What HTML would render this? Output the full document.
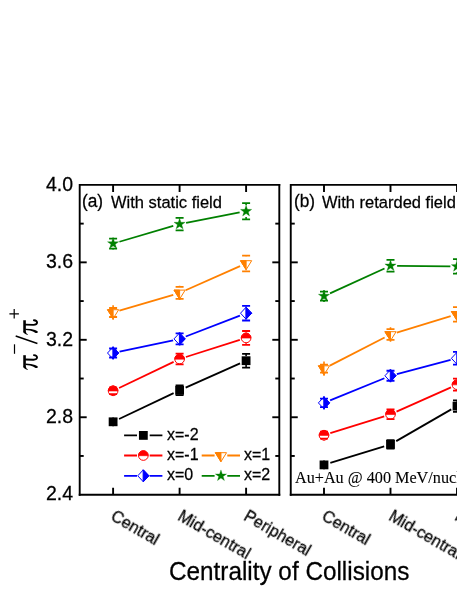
<!DOCTYPE html>
<html><head><meta charset="utf-8"><style>
html,body{margin:0;padding:0;background:#fff;}
body{width:457px;height:591px;position:relative;overflow:hidden;font-family:"Liberation Sans",sans-serif;color:#000;}
.t{position:absolute;white-space:nowrap;line-height:1;transform-origin:0 84.65%;will-change:transform;-webkit-text-stroke:0.25px #000;}
</style></head><body>
<svg width="457" height="591" viewBox="0 0 457 591" style="position:absolute;left:0;top:0"><defs><clipPath id="ca"><rect x="0" y="0" width="457" height="591"/></clipPath></defs><path d="M79.7,494.7 V184.9 H279.3 " stroke="#000" stroke-width="1.9" fill="none" stroke-linecap="square"/><path d="M79.7,494.7 H279.3" stroke="#000" stroke-width="1.9" fill="none" stroke-linecap="square"/><path d="M279.3,184.9 V494.7" stroke="#000" stroke-width="1.9" fill="none" stroke-linecap="square"/><path d="M79.7,455.97 h4" stroke="#000" stroke-width="1.9"/><path d="M279.3,455.97 h-4" stroke="#000" stroke-width="1.9"/><path d="M79.7,417.25 h7" stroke="#000" stroke-width="1.9"/><path d="M279.3,417.25 h-7" stroke="#000" stroke-width="1.9"/><path d="M79.7,378.52 h4" stroke="#000" stroke-width="1.9"/><path d="M279.3,378.52 h-4" stroke="#000" stroke-width="1.9"/><path d="M79.7,339.80 h7" stroke="#000" stroke-width="1.9"/><path d="M279.3,339.80 h-7" stroke="#000" stroke-width="1.9"/><path d="M79.7,301.08 h4" stroke="#000" stroke-width="1.9"/><path d="M279.3,301.08 h-4" stroke="#000" stroke-width="1.9"/><path d="M79.7,262.35 h7" stroke="#000" stroke-width="1.9"/><path d="M279.3,262.35 h-7" stroke="#000" stroke-width="1.9"/><path d="M79.7,223.63 h4" stroke="#000" stroke-width="1.9"/><path d="M279.3,223.63 h-4" stroke="#000" stroke-width="1.9"/><path d="M113.1,184.9 v7 M113.1,494.7 v-7" stroke="#000" stroke-width="1.9"/><path d="M179.6,184.9 v7 M179.6,494.7 v-7" stroke="#000" stroke-width="1.9"/><path d="M246.1,184.9 v7 M246.1,494.7 v-7" stroke="#000" stroke-width="1.9"/><path d="M290.75,494.7 V184.9 H477 " stroke="#000" stroke-width="1.9" fill="none" stroke-linecap="square"/><path d="M290.75,494.7 H477" stroke="#000" stroke-width="1.9" fill="none" stroke-linecap="square"/><path d="M290.75,455.97 h4" stroke="#000" stroke-width="1.9"/><path d="M290.75,417.25 h7" stroke="#000" stroke-width="1.9"/><path d="M290.75,378.52 h4" stroke="#000" stroke-width="1.9"/><path d="M290.75,339.80 h7" stroke="#000" stroke-width="1.9"/><path d="M290.75,301.08 h4" stroke="#000" stroke-width="1.9"/><path d="M290.75,262.35 h7" stroke="#000" stroke-width="1.9"/><path d="M290.75,223.63 h4" stroke="#000" stroke-width="1.9"/><path d="M324.0,184.9 v7 M324.0,494.7 v-7" stroke="#000" stroke-width="1.9"/><path d="M390.5,184.9 v7 M390.5,494.7 v-7" stroke="#000" stroke-width="1.9"/><path d="M457.0,184.9 v7 M457.0,494.7 v-7" stroke="#000" stroke-width="1.9"/><g><line x1="119.06" y1="418.97" x2="173.64" y2="393.13" stroke="#000000" stroke-width="1.8"/><line x1="185.63" y1="387.62" x2="240.07" y2="363.38" stroke="#000000" stroke-width="1.8"/><path d="M113.10,417.40 V418.80 M113.10,424.80 V426.20" stroke="#000000" stroke-width="1.6" fill="none"/><rect x="108.70" y="417.40" width="8.8" height="8.8" fill="#000000"/><path d="M109.10,418.80 h8 M109.10,424.80 h8" stroke="#000000" stroke-width="1.8" fill="none"/><path d="M179.60,385.40 V385.90 M179.60,394.70 V395.20" stroke="#000000" stroke-width="1.6" fill="none"/><rect x="175.20" y="385.90" width="8.8" height="8.8" fill="#000000"/><path d="M175.60,385.40 h8 M175.60,395.20 h8" stroke="#000000" stroke-width="1.8" fill="none"/><path d="M246.10,353.85 V356.30 M246.10,365.10 V367.55" stroke="#000000" stroke-width="1.6" fill="none"/><rect x="241.70" y="356.30" width="8.8" height="8.8" fill="#000000"/><path d="M242.10,353.85 h8 M242.10,367.55 h8" stroke="#000000" stroke-width="1.8" fill="none"/></g>
<g><line x1="119.05" y1="387.95" x2="173.65" y2="361.85" stroke="#ff0000" stroke-width="1.8"/><line x1="185.89" y1="357.00" x2="239.81" y2="339.90" stroke="#ff0000" stroke-width="1.8"/><path d="M113.10,385.50 V387.50 M113.10,394.10 V396.10" stroke="#ff0000" stroke-width="1.6" fill="none"/><circle cx="113.10" cy="390.80" r="4.85" fill="#fff" stroke="#ff0000" stroke-width="1.0"/><path d="M108.25,391.00 A4.85,4.85 0 0 1 117.95,391.00 Z" fill="#ff0000" stroke="#ff0000" stroke-width="0.6"/><path d="M109.10,387.50 h8 M109.10,394.10 h8" stroke="#ff0000" stroke-width="1.8" fill="none"/><path d="M179.60,353.60 V353.70 M179.60,364.30 V364.40" stroke="#ff0000" stroke-width="1.6" fill="none"/><circle cx="179.60" cy="359.00" r="4.85" fill="#fff" stroke="#ff0000" stroke-width="1.0"/><path d="M174.75,359.20 A4.85,4.85 0 0 1 184.45,359.20 Z" fill="#ff0000" stroke="#ff0000" stroke-width="0.6"/><path d="M175.60,353.60 h8 M175.60,364.40 h8" stroke="#ff0000" stroke-width="1.8" fill="none"/><path d="M246.10,331.00 V332.60 M246.10,343.20 V344.80" stroke="#ff0000" stroke-width="1.6" fill="none"/><circle cx="246.10" cy="337.90" r="4.85" fill="#fff" stroke="#ff0000" stroke-width="1.0"/><path d="M241.25,338.10 A4.85,4.85 0 0 1 250.95,338.10 Z" fill="#ff0000" stroke="#ff0000" stroke-width="0.6"/><path d="M242.10,331.00 h8 M242.10,344.80 h8" stroke="#ff0000" stroke-width="1.8" fill="none"/></g>
<g><line x1="119.56" y1="351.63" x2="173.14" y2="340.27" stroke="#0000ff" stroke-width="1.8"/><line x1="185.76" y1="336.52" x2="239.94" y2="315.58" stroke="#0000ff" stroke-width="1.8"/><path d="M113.10,346.40 V348.50 M113.10,357.50 V359.60" stroke="#0000ff" stroke-width="1.6" fill="none"/><path d="M113.10,347.00 L118.70,353.00 L113.10,359.00 L107.50,353.00 Z" fill="#fff" stroke="#0000ff" stroke-width="1.0" stroke-linejoin="miter"/><path d="M112.90,347.00 L118.70,353.00 L112.90,359.00 Z" fill="#0000ff" stroke="#0000ff" stroke-width="1.0"/><path d="M109.10,348.50 h8 M109.10,357.50 h8" stroke="#0000ff" stroke-width="1.8" fill="none"/><path d="M179.60,332.30 V333.40 M179.60,344.40 V345.50" stroke="#0000ff" stroke-width="1.6" fill="none"/><path d="M179.60,332.90 L185.20,338.90 L179.60,344.90 L174.00,338.90 Z" fill="#fff" stroke="#0000ff" stroke-width="1.0" stroke-linejoin="miter"/><path d="M179.40,332.90 L185.20,338.90 L179.40,344.90 Z" fill="#0000ff" stroke="#0000ff" stroke-width="1.0"/><path d="M175.60,333.40 h8 M175.60,344.40 h8" stroke="#0000ff" stroke-width="1.8" fill="none"/><path d="M246.10,305.90 V306.60 M246.10,319.80 V320.50" stroke="#0000ff" stroke-width="1.6" fill="none"/><path d="M246.10,307.20 L251.70,313.20 L246.10,319.20 L240.50,313.20 Z" fill="#fff" stroke="#0000ff" stroke-width="1.0" stroke-linejoin="miter"/><path d="M245.90,307.20 L251.70,313.20 L245.90,319.20 Z" fill="#0000ff" stroke="#0000ff" stroke-width="1.0"/><path d="M242.10,305.90 h8 M242.10,320.50 h8" stroke="#0000ff" stroke-width="1.8" fill="none"/></g>
<g><line x1="119.43" y1="310.63" x2="173.27" y2="294.77" stroke="#ff8000" stroke-width="1.8"/><line x1="185.64" y1="290.23" x2="240.06" y2="266.17" stroke="#ff8000" stroke-width="1.8"/><path d="M113.10,305.30 V308.00 M113.10,317.00 V319.70" stroke="#ff8000" stroke-width="1.6" fill="none"/><path d="M107.50,309.70 L118.70,309.70 L113.10,318.70 Z" fill="#fff" stroke="#ff8000" stroke-width="1.0"/><path d="M107.50,309.70 L113.10,309.70 L113.10,318.70 Z" fill="#ff8000" stroke="#ff8000" stroke-width="1.0"/><path d="M109.10,308.00 h8 M109.10,317.00 h8" stroke="#ff8000" stroke-width="1.8" fill="none"/><path d="M179.60,285.70 V286.90 M179.60,298.90 V300.10" stroke="#ff8000" stroke-width="1.6" fill="none"/><path d="M174.00,290.10 L185.20,290.10 L179.60,299.10 Z" fill="#fff" stroke="#ff8000" stroke-width="1.0"/><path d="M174.00,290.10 L179.60,290.10 L179.60,299.10 Z" fill="#ff8000" stroke="#ff8000" stroke-width="1.0"/><path d="M175.60,286.90 h8 M175.60,298.90 h8" stroke="#ff8000" stroke-width="1.8" fill="none"/><path d="M246.10,255.65 V256.30 M246.10,270.70 V271.35" stroke="#ff8000" stroke-width="1.6" fill="none"/><path d="M240.50,260.70 L251.70,260.70 L246.10,269.70 Z" fill="#fff" stroke="#ff8000" stroke-width="1.0"/><path d="M240.50,260.70 L246.10,260.70 L246.10,269.70 Z" fill="#ff8000" stroke="#ff8000" stroke-width="1.0"/><path d="M242.10,255.65 h8 M242.10,271.35 h8" stroke="#ff8000" stroke-width="1.8" fill="none"/></g>
<g><line x1="119.43" y1="241.74" x2="173.27" y2="225.96" stroke="#008000" stroke-width="1.8"/><line x1="186.08" y1="222.84" x2="239.62" y2="212.46" stroke="#008000" stroke-width="1.8"/><path d="M113.10,237.70 V238.60 M113.10,248.60 V249.50" stroke="#008000" stroke-width="1.6" fill="none"/><path d="M113.10,237.70 L114.45,241.74 L118.71,241.78 L115.29,244.31 L116.57,248.37 L113.10,245.90 L109.63,248.37 L110.91,244.31 L107.49,241.78 L111.75,241.74 Z" fill="#008000" stroke="#008000" stroke-width="0.3"/><path d="M109.10,238.60 h8 M109.10,248.60 h8" stroke="#008000" stroke-width="1.8" fill="none"/><path d="M179.60,217.85 V218.20 M179.60,230.00 V230.35" stroke="#008000" stroke-width="1.6" fill="none"/><path d="M179.60,218.20 L180.95,222.24 L185.21,222.28 L181.79,224.81 L183.07,228.87 L179.60,226.40 L176.13,228.87 L177.41,224.81 L173.99,222.28 L178.25,222.24 Z" fill="#008000" stroke="#008000" stroke-width="0.3"/><path d="M175.60,217.85 h8 M175.60,230.35 h8" stroke="#008000" stroke-width="1.8" fill="none"/><path d="M246.10,203.10 V205.30 M246.10,217.10 V219.30" stroke="#008000" stroke-width="1.6" fill="none"/><path d="M246.10,205.30 L247.45,209.34 L251.71,209.38 L248.29,211.91 L249.57,215.97 L246.10,213.50 L242.63,215.97 L243.91,211.91 L240.49,209.38 L244.75,209.34 Z" fill="#008000" stroke="#008000" stroke-width="0.3"/><path d="M242.10,203.10 h8 M242.10,219.30 h8" stroke="#008000" stroke-width="1.8" fill="none"/></g><g><line x1="330.31" y1="462.96" x2="384.19" y2="446.34" stroke="#000000" stroke-width="1.8"/><line x1="396.22" y1="441.11" x2="451.28" y2="409.39" stroke="#000000" stroke-width="1.8"/><path d="M324.00,460.50 V461.90 M324.00,467.90 V469.30" stroke="#000000" stroke-width="1.6" fill="none"/><rect x="319.60" y="460.50" width="8.8" height="8.8" fill="#000000"/><path d="M320.00,461.90 h8 M320.00,467.90 h8" stroke="#000000" stroke-width="1.8" fill="none"/><path d="M390.50,440.00 V440.10 M390.50,448.70 V448.80" stroke="#000000" stroke-width="1.6" fill="none"/><rect x="386.10" y="440.00" width="8.8" height="8.8" fill="#000000"/><path d="M386.50,440.10 h8 M386.50,448.70 h8" stroke="#000000" stroke-width="1.8" fill="none"/><path d="M457.00,400.30 V401.70 M457.00,410.50 V411.90" stroke="#000000" stroke-width="1.6" fill="none"/><rect x="452.60" y="401.70" width="8.8" height="8.8" fill="#000000"/><path d="M453.00,400.30 h8 M453.00,411.90 h8" stroke="#000000" stroke-width="1.8" fill="none"/></g>
<g><line x1="330.30" y1="433.22" x2="384.20" y2="416.28" stroke="#ff0000" stroke-width="1.8"/><line x1="396.53" y1="411.61" x2="450.97" y2="387.34" stroke="#ff0000" stroke-width="1.8"/><path d="M324.00,429.90 V431.70 M324.00,438.70 V440.50" stroke="#ff0000" stroke-width="1.6" fill="none"/><circle cx="324.00" cy="435.20" r="4.85" fill="#fff" stroke="#ff0000" stroke-width="1.0"/><path d="M319.15,435.40 A4.85,4.85 0 0 1 328.85,435.40 Z" fill="#ff0000" stroke="#ff0000" stroke-width="0.6"/><path d="M320.00,431.70 h8 M320.00,438.70 h8" stroke="#ff0000" stroke-width="1.8" fill="none"/><path d="M390.50,409.00 V409.50 M390.50,419.10 V419.60" stroke="#ff0000" stroke-width="1.6" fill="none"/><circle cx="390.50" cy="414.30" r="4.85" fill="#fff" stroke="#ff0000" stroke-width="1.0"/><path d="M385.65,414.50 A4.85,4.85 0 0 1 395.35,414.50 Z" fill="#ff0000" stroke="#ff0000" stroke-width="0.6"/><path d="M386.50,409.50 h8 M386.50,419.10 h8" stroke="#ff0000" stroke-width="1.8" fill="none"/><path d="M457.00,378.60 V379.35 M457.00,389.95 V390.70" stroke="#ff0000" stroke-width="1.6" fill="none"/><circle cx="457.00" cy="384.65" r="4.85" fill="#fff" stroke="#ff0000" stroke-width="1.0"/><path d="M452.15,384.85 A4.85,4.85 0 0 1 461.85,384.85 Z" fill="#ff0000" stroke="#ff0000" stroke-width="0.6"/><path d="M453.00,378.60 h8 M453.00,390.70 h8" stroke="#ff0000" stroke-width="1.8" fill="none"/></g>
<g><line x1="330.11" y1="400.41" x2="384.39" y2="378.24" stroke="#0000ff" stroke-width="1.8"/><line x1="396.88" y1="374.07" x2="450.62" y2="359.98" stroke="#0000ff" stroke-width="1.8"/><path d="M324.00,396.30 V398.70 M324.00,407.10 V409.50" stroke="#0000ff" stroke-width="1.6" fill="none"/><path d="M324.00,396.90 L329.60,402.90 L324.00,408.90 L318.40,402.90 Z" fill="#fff" stroke="#0000ff" stroke-width="1.0" stroke-linejoin="miter"/><path d="M323.80,396.90 L329.60,402.90 L323.80,408.90 Z" fill="#0000ff" stroke="#0000ff" stroke-width="1.0"/><path d="M320.00,398.70 h8 M320.00,407.10 h8" stroke="#0000ff" stroke-width="1.8" fill="none"/><path d="M390.50,369.15 V370.75 M390.50,380.75 V382.35" stroke="#0000ff" stroke-width="1.6" fill="none"/><path d="M390.50,369.75 L396.10,375.75 L390.50,381.75 L384.90,375.75 Z" fill="#fff" stroke="#0000ff" stroke-width="1.0" stroke-linejoin="miter"/><path d="M390.30,369.75 L396.10,375.75 L390.30,381.75 Z" fill="#0000ff" stroke="#0000ff" stroke-width="1.0"/><path d="M386.50,370.75 h8 M386.50,380.75 h8" stroke="#0000ff" stroke-width="1.8" fill="none"/><path d="M457.00,351.70 V351.90 M457.00,364.70 V364.90" stroke="#0000ff" stroke-width="1.6" fill="none"/><path d="M457.00,352.30 L462.60,358.30 L457.00,364.30 L451.40,358.30 Z" fill="#fff" stroke="#0000ff" stroke-width="1.0" stroke-linejoin="miter"/><path d="M456.80,352.30 L462.60,358.30 L456.80,364.30 Z" fill="#0000ff" stroke="#0000ff" stroke-width="1.0"/><path d="M453.00,351.90 h8 M453.00,364.70 h8" stroke="#0000ff" stroke-width="1.8" fill="none"/></g>
<g><line x1="329.87" y1="365.59" x2="384.63" y2="337.51" stroke="#ff8000" stroke-width="1.8"/><line x1="396.82" y1="332.58" x2="450.68" y2="316.22" stroke="#ff8000" stroke-width="1.8"/><path d="M324.00,361.40 V364.60 M324.00,372.60 V375.80" stroke="#ff8000" stroke-width="1.6" fill="none"/><path d="M318.40,365.80 L329.60,365.80 L324.00,374.80 Z" fill="#fff" stroke="#ff8000" stroke-width="1.0"/><path d="M318.40,365.80 L324.00,365.80 L324.00,374.80 Z" fill="#ff8000" stroke="#ff8000" stroke-width="1.0"/><path d="M320.00,364.60 h8 M320.00,372.60 h8" stroke="#ff8000" stroke-width="1.8" fill="none"/><path d="M390.50,327.30 V329.20 M390.50,339.80 V341.70" stroke="#ff8000" stroke-width="1.6" fill="none"/><path d="M384.90,331.70 L396.10,331.70 L390.50,340.70 Z" fill="#fff" stroke="#ff8000" stroke-width="1.0"/><path d="M384.90,331.70 L390.50,331.70 L390.50,340.70 Z" fill="#ff8000" stroke="#ff8000" stroke-width="1.0"/><path d="M386.50,329.20 h8 M386.50,339.80 h8" stroke="#ff8000" stroke-width="1.8" fill="none"/><path d="M457.00,307.05 V307.10 M457.00,321.50 V321.55" stroke="#ff8000" stroke-width="1.6" fill="none"/><path d="M451.40,311.50 L462.60,311.50 L457.00,320.50 Z" fill="#fff" stroke="#ff8000" stroke-width="1.0"/><path d="M451.40,311.50 L457.00,311.50 L457.00,320.50 Z" fill="#ff8000" stroke="#ff8000" stroke-width="1.0"/><path d="M453.00,307.05 h8 M453.00,321.55 h8" stroke="#ff8000" stroke-width="1.8" fill="none"/></g>
<g><line x1="330.01" y1="293.36" x2="384.49" y2="268.54" stroke="#008000" stroke-width="1.8"/><line x1="397.10" y1="265.86" x2="450.40" y2="266.39" stroke="#008000" stroke-width="1.8"/><path d="M324.00,290.20 V291.60 M324.00,300.60 V302.00" stroke="#008000" stroke-width="1.6" fill="none"/><path d="M324.00,290.20 L325.35,294.24 L329.61,294.28 L326.19,296.81 L327.47,300.87 L324.00,298.40 L320.53,300.87 L321.81,296.81 L318.39,294.28 L322.65,294.24 Z" fill="#008000" stroke="#008000" stroke-width="0.3"/><path d="M320.00,291.60 h8 M320.00,300.60 h8" stroke="#008000" stroke-width="1.8" fill="none"/><path d="M390.50,259.90 V259.90 M390.50,271.70 V271.70" stroke="#008000" stroke-width="1.6" fill="none"/><path d="M390.50,259.90 L391.85,263.94 L396.11,263.98 L392.69,266.51 L393.97,270.57 L390.50,268.10 L387.03,270.57 L388.31,266.51 L384.89,263.98 L389.15,263.94 Z" fill="#008000" stroke="#008000" stroke-width="0.3"/><path d="M386.50,259.90 h8 M386.50,271.70 h8" stroke="#008000" stroke-width="1.8" fill="none"/><path d="M457.00,259.20 V260.55 M457.00,272.35 V273.70" stroke="#008000" stroke-width="1.6" fill="none"/><path d="M457.00,260.55 L458.35,264.59 L462.61,264.63 L459.19,267.16 L460.47,271.22 L457.00,268.75 L453.53,271.22 L454.81,267.16 L451.39,264.63 L455.65,264.59 Z" fill="#008000" stroke="#008000" stroke-width="0.3"/><path d="M453.00,259.20 h8 M453.00,273.70 h8" stroke="#008000" stroke-width="1.8" fill="none"/></g><path d="M124.1,435.4 h12.9 M149.7,435.4 h12.7" stroke="#000000" stroke-width="1.8"/><rect x="138.95" y="431.00" width="8.8" height="8.8" fill="#000000"/><path d="M124.1,455.5 h12.9 M149.7,455.5 h12.7" stroke="#ff0000" stroke-width="1.8"/><circle cx="143.35" cy="455.50" r="4.85" fill="#fff" stroke="#ff0000" stroke-width="1.0"/><path d="M138.50,455.70 A4.85,4.85 0 0 1 148.20,455.70 Z" fill="#ff0000" stroke="#ff0000" stroke-width="0.6"/><path d="M124.1,475.8 h12.9 M149.7,475.8 h12.7" stroke="#0000ff" stroke-width="1.8"/><path d="M143.35,469.80 L148.95,475.80 L143.35,481.80 L137.75,475.80 Z" fill="#fff" stroke="#0000ff" stroke-width="1.0" stroke-linejoin="miter"/><path d="M143.15,469.80 L148.95,475.80 L143.15,481.80 Z" fill="#0000ff" stroke="#0000ff" stroke-width="1.0"/><path d="M201.7,455.5 h12.9 M227.29999999999998,455.5 h12.7" stroke="#ff8000" stroke-width="1.8"/><path d="M215.35,452.70 L226.55,452.70 L220.95,461.70 Z" fill="#fff" stroke="#ff8000" stroke-width="1.0"/><path d="M215.35,452.70 L220.95,452.70 L220.95,461.70 Z" fill="#ff8000" stroke="#ff8000" stroke-width="1.0"/><path d="M201.7,475.8 h12.9 M227.29999999999998,475.8 h12.7" stroke="#008000" stroke-width="1.8"/><path d="M220.95,469.90 L222.30,473.94 L226.56,473.98 L223.14,476.51 L224.42,480.57 L220.95,478.10 L217.48,480.57 L218.76,476.51 L215.34,473.98 L219.60,473.94 Z" fill="#008000" stroke="#008000" stroke-width="0.3"/><g><path d="M24.55,355.2 V367.4" stroke="#000" stroke-width="2.6" fill="none"/><path d="M23.3,366.5 Q23.6,368.6 27.6,370.0 L27.9,369.4 Q25.9,368.4 25.85,366.5 Z" fill="#000"/><path d="M25.5,359.5 L33.4,359.75 Q36.9,359.7 37.1,357.5 Q37.0,355.5 33.9,355.2" stroke="#000" stroke-width="1.8" fill="none" stroke-linecap="round"/><path d="M25.5,363.6 L31,364.0 L35,365.0 L37.6,366.2 Q38.2,367.4 37.2,367.9 L35.6,367.9 L33,366.4 L30,365.5 L25.5,364.9 Z" fill="#000"/></g><g transform="translate(0,-34.95)"><path d="M24.55,355.2 V367.4" stroke="#000" stroke-width="2.6" fill="none"/><path d="M23.3,366.5 Q23.6,368.6 27.6,370.0 L27.9,369.4 Q25.9,368.4 25.85,366.5 Z" fill="#000"/><path d="M25.5,359.5 L33.4,359.75 Q36.9,359.7 37.1,357.5 Q37.0,355.5 33.9,355.2" stroke="#000" stroke-width="1.8" fill="none" stroke-linecap="round"/><path d="M25.5,363.6 L31,364.0 L35,365.0 L37.6,366.2 Q38.2,367.4 37.2,367.9 L35.6,367.9 L33,366.4 L30,365.5 L25.5,364.9 Z" fill="#000"/></g><path d="M15.7,336.0 L37.4,343.5" stroke="#000" stroke-width="1.4" fill="none"/><path d="M9.4,313.9 H18.9 M14.2,309.1 V318.6" stroke="#000" stroke-width="1.2" fill="none"/><path d="M14.5,344.3 V353.8" stroke="#000" stroke-width="1.2" fill="none"/></svg>
<div class="t" style="right:384.1px;top:174.60px;font-size:19.5px;transform:scaleY(1.045);">4.0</div><div class="t" style="right:384.1px;top:252.05px;font-size:19.5px;transform:scaleY(1.045);">3.6</div><div class="t" style="right:384.1px;top:329.50px;font-size:19.5px;transform:scaleY(1.045);">3.2</div><div class="t" style="right:384.1px;top:406.95px;font-size:19.5px;transform:scaleY(1.045);">2.8</div><div class="t" style="right:384.1px;top:484.40px;font-size:19.5px;transform:scaleY(1.045);">2.4</div><div class="t" style="left:166.6px;top:427.06px;font-size:16px;transform: scaleY(1.045);">x=-2</div><div class="t" style="left:166.6px;top:447.16px;font-size:16px;transform: scaleY(1.045);">x=-1</div><div class="t" style="left:166.6px;top:467.46px;font-size:16px;transform: scaleY(1.045);">x=0</div><div class="t" style="left:244.2px;top:447.16px;font-size:16px;transform: scaleY(1.045);">x=1</div><div class="t" style="left:244.2px;top:467.46px;font-size:16px;transform: scaleY(1.045);">x=2</div><div class="t" style="left:82.3px;top:193.06px;font-size:17.3px;transform: scaleY(1.045);">(a)</div><div class="t" style="left:111.0px;top:193.73px;font-size:16.5px;transform: scaleY(1.045);">With static field</div><div class="t" style="left:293.9px;top:193.26px;font-size:17.3px;transform: scaleY(1.045);">(b)</div><div class="t" style="left:322.1px;top:193.93px;font-size:16.5px;transform: scaleY(1.045);">With retarded field</div><div class="t" style="left:295.0px;top:469.93px;font-size:16.2px;font-family:'Liberation Serif',serif;-webkit-text-stroke:0.1px #000;">Au+Au @ 400 MeV/nucleon</div><div class="t" style="left:169.3px;top:560.03px;font-size:24.3px;transform: scaleY(1.045);">Centrality of Collisions</div><div class="t" style="left:110.3px;top:505.0px;font-size:16.3px;transform-origin:0 84.65%;transform:rotate(30deg) scaleY(1.045);">Central</div><div class="t" style="left:177.3px;top:505.0px;font-size:16.3px;transform-origin:0 84.65%;transform:rotate(30deg) scaleY(1.045);">Mid-central</div><div class="t" style="left:243.3px;top:505.0px;font-size:16.3px;transform-origin:0 84.65%;transform:rotate(30deg) scaleY(1.045);">Peripheral</div><div class="t" style="left:321.3px;top:505.0px;font-size:16.3px;transform-origin:0 84.65%;transform:rotate(30deg) scaleY(1.045);">Central</div><div class="t" style="left:388.3px;top:505.0px;font-size:16.3px;transform-origin:0 84.65%;transform:rotate(30deg) scaleY(1.045);">Mid-central</div><div class="t" style="left:454.3px;top:505.0px;font-size:16.3px;transform-origin:0 84.65%;transform:rotate(30deg) scaleY(1.045);">Peripheral</div>
</body></html>
